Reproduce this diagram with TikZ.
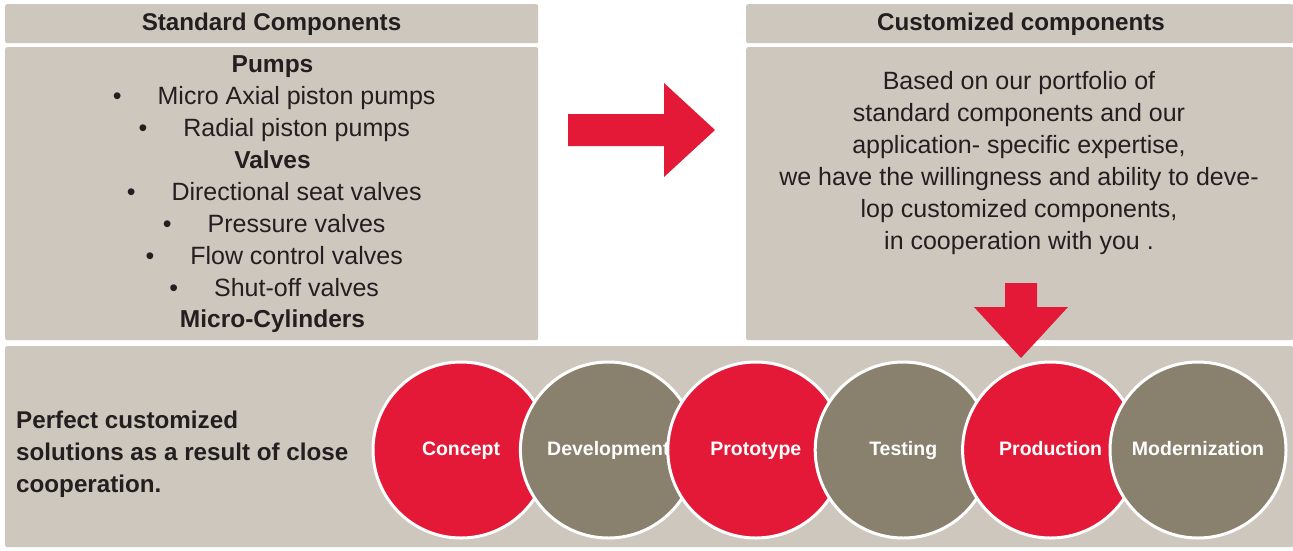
\documentclass[tikz,border=0pt]{standalone}
\usepackage{fontspec}
\setmainfont{Liberation Sans}
\definecolor{boxgray}{RGB}{206,199,189}
\definecolor{brandred}{RGB}{227,25,55}
\definecolor{stonegray}{RGB}{137,128,110}
\definecolor{inkdark}{RGB}{35,31,32}
\begin{document}
\begin{tikzpicture}[x=1pt,y=-1pt,
  panel/.style={fill=boxgray, draw=none, rounded corners=2pt, inner sep=0pt, anchor=north west},
  hdr/.style={anchor=base, inner sep=0pt, text=inkdark, font=\fontsize{24.2}{28}\selectfont\bfseries},
  sub/.style={anchor=base, inner sep=0pt, text=inkdark, font=\fontsize{24.5}{28}\selectfont\bfseries},
  txt/.style={anchor=base, inner sep=0pt, text=inkdark, font=\fontsize{25}{30}\selectfont},
  lead/.style={anchor=base west, inner sep=0pt, text=inkdark, font=\fontsize{24.2}{30}\selectfont\bfseries},
  stage/.style={circle, draw=white, line width=3pt, minimum size=176pt, inner sep=0pt,
    text=white, font=\fontsize{19.5}{23}\selectfont\bfseries, text height=10pt, text depth=0pt},
  redstage/.style={stage, fill=brandred},
  graystage/.style={stage, fill=stonegray},
  bigarrow/.style={fill=brandred, draw=none}
]
\fill[white] (0,0) rectangle (1293,550);
\useasboundingbox (0,0) rectangle (1293,550);

% panels
\node[panel, minimum width=533pt, minimum height=39pt] (hdrL) at (5,4) {};
\node[panel, minimum width=533pt, minimum height=293pt] (bodyL) at (5,47) {};
\node[panel, minimum width=547pt, minimum height=39pt] (hdrR) at (746,4) {};
\node[panel, minimum width=547pt, minimum height=293pt] (bodyR) at (746,47) {};
\node[panel, minimum width=1288pt, minimum height=201pt] (bottom) at (5,346) {};

% left texts
\node[hdr] (tStd) at (271.5,30) {Standard Components};
\node[sub] (tPumps) at (272.5,72.3) {Pumps};
\node[txt] (tMicro) at (274.2,104.3) {\textbullet\hspace{36pt}Micro Axial piston pumps};
\node[txt] (tRadial) at (274.2,136.5) {\textbullet\hspace{36pt}Radial piston pumps};
\node[sub] (tValves) at (272.5,168.3) {Valves};
\node[txt] (tDir) at (274.2,200.2) {\textbullet\hspace{36pt}Directional seat valves};
\node[txt] (tPress) at (274.2,232.2) {\textbullet\hspace{36pt}Pressure valves};
\node[txt] (tFlow) at (274.2,264.1) {\textbullet\hspace{36pt}Flow control valves};
\node[txt] (tShut) at (274.2,296) {\textbullet\hspace{36pt}Shut-off valves};
\node[sub] (tCyl) at (272.5,327.8) {Micro-Cylinders};

% right texts
\node[hdr] (tCust) at (1021,30) {Customized components};
\node[txt] (r1) at (1019,89.8) {Based on our portfolio of};
\node[txt] (r2) at (1019,121.8) {standard components and our};
\node[txt] (r3) at (1019,153.6) {application- specific expertise,};
\node[txt] (r4) at (1019,185.5) {we have the willingness and ability to deve-};
\node[txt] (r5) at (1019,217.4) {lop customized components,};
\node[txt] (r6) at (1019,249.3) {in cooperation with you .};

% bottom-left text
\node[lead] (l1) at (16,428) {Perfect customized};
\node[lead] (l2) at (16,460) {solutions as a result of close};
\node[lead] (l3) at (16,492) {cooperation.};

% stages
\node[redstage]  (concept) at (461,450) {Concept};
\node[graystage] (devel)   at (608.4,450) {Development};
\node[redstage]  (proto)   at (755.8,450) {Prototype};
\node[graystage] (testing) at (903.2,450) {Testing};
\node[redstage]  (prod)    at (1050.6,450) {Production};
\node[graystage] (modern)  at (1198,450) {Modernization};

% arrows
\fill[bigarrow] (568,114) -- (664,114) -- (664,83) -- (715,130) -- (664,177) -- (664,146) -- (568,146) -- cycle;
\fill[bigarrow] (1005,283) -- (1037,283) -- (1037,307) -- (1068,307) -- (1021,358) -- (974,307) -- (1005,307) -- cycle;
\end{tikzpicture}
\end{document}
